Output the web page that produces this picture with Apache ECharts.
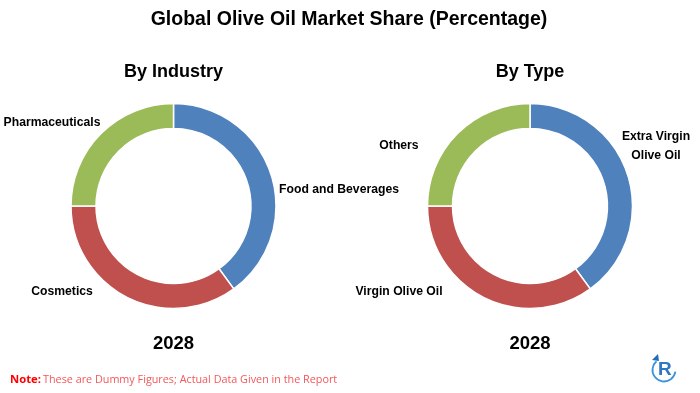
<!DOCTYPE html>
<html><head><meta charset="utf-8">
<style>html,body{margin:0;padding:0;background:#fff}#c{width:700px;height:393px}</style>
<script src="https://cdn.jsdelivr.net/npm/echarts@6/dist/echarts.min.js"></script>
</head><body><div id="c"></div>
<script>
const industryNames = ['Food and Beverages', 'Cosmetics', 'Pharmaceuticals'];
const industryValues = [40, 35, 25];
const typeNames = ['Extra Virgin\nOlive Oil', 'Virgin Olive Oil', 'Others'];
const typeValues = [40, 35, 25];
const colors = ['#4F81BD', '#C0504D', '#9BBB59'];
const chartTitle = 'Global Olive Oil Market Share (Percentage)';
const yearLabel = '2028';
const font = '"Liberation Sans", Arial, sans-serif';

function toData(names, values) { return names.map((n, i) => ({ name: n, value: values[i] })); }
function pie(names, values, cx, labelPos) {
  return {
    type: 'pie', center: [cx, 206], radius: [77.5, 102.5], startAngle: 90, clockwise: true,
    color: colors, silent: true, animation: false,
    itemStyle: { borderColor: '#fff', borderWidth: 1.5 },
    label: { show: true, position: 'outside', alignTo: 'none', overflow: 'none', formatter: '{b}', color: '#000', fontFamily: font,
      fontWeight: 'bold', fontSize: 12.2, lineHeight: 18.5, align: 'center' },
    labelLine: { show: false },
    labelLayout: p => {
      const q = labelPos[p.dataIndex];
      return { x: q[0], y: q[1], align: 'center', verticalAlign: 'middle', width: 200 };
    },
    data: toData(names, values)
  };
}
const chart = echarts.init(document.getElementById('c'), null, { renderer: 'canvas' });
const t = (text, left, top, size, extra) => Object.assign({
  text, left, top, textAlign: 'center', padding: 0,
  textStyle: { color: '#000', fontFamily: font, fontWeight: 'bold', fontSize: size, lineHeight: size + 2 }
}, extra || {});
chart.setOption({
  backgroundColor: '#fff',
  animation: false,
  title: [
    t(chartTitle, 349, 8.5, 19.5),
    t('By Industry', 173.5, 62.5, 18),
    t('By Type', 530, 62.5, 18),
    t(yearLabel, 173.5, 334, 18.5),
    t(yearLabel, 530, 334, 18.5)
  ],
  series: [
    pie(industryNames, industryValues, 173.5, [[339, 190], [62, 292], [52, 123]]),
    pie(typeNames, typeValues, 530, [[656, 146], [399, 292], [399, 146]])
  ],
  graphic: [
    { type: 'text', left: 10, top: 374, style: { text: 'Note:', fill: '#FF0000', font: 'bold 11.3px "Open Sans", sans-serif' } },
    { type: 'text', left: 43, top: 374, style: { text: 'These are Dummy Figures; Actual Data Given in the Report', fill: '#F4575A', font: '10.8px "Open Sans", sans-serif' } },
    { type: 'arc', silent: true, shape: { cx: 664, cy: 370, r: 11.5, startAngle: 0.15, endAngle: 4.0, clockwise: true },
      style: { stroke: '#3D94DC', lineWidth: 1.8, fill: null } },
    { type: 'polygon', silent: true, shape: { points: [[652, 360], [658, 354], [659, 361]] }, style: { fill: '#1F6FB8' } },
    { type: 'text', left: 658, top: 360, style: { text: 'R', fill: '#2E78C0', font: 'bold 19px "Liberation Sans", sans-serif' } }
  ]
});
</script></body></html>
